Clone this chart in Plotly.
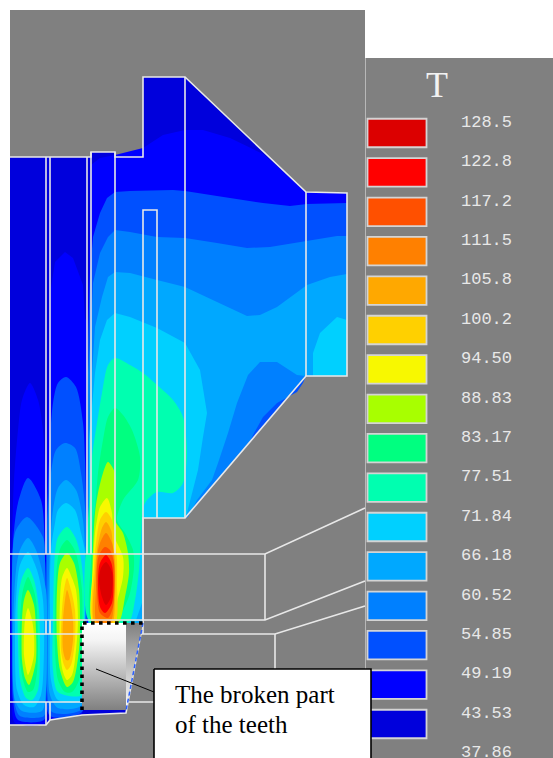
import plotly.graph_objects as go

# Legend
LEVEL_LABELS = ["128.5","122.8","117.2","111.5","105.8","100.2","94.50","88.83","83.17","77.51",
                "71.84","66.18","60.52","54.85","49.19","43.53","37.86"]
C = dict(L128="#dc0000", L122="#ff0000", L117="#ff5000", L111="#ff8000", L105="#ffa800", L100="#ffd000",
         L94="#f8f800", L88="#a8ff00", L83="#00ff80", L77="#00ffb0", L71="#00d0ff", L66="#00a8ff",
         L60="#0080ff", L54="#0050ff", L49="#0000ff", L43="#0000dc")
LEGEND_KEYS = ["L128","L122","L117","L111","L105","L100","L94","L88","L83","L77","L71","L66","L60","L54","L49","L43"]

OUTLINE = [(10,157),(91,157),(91,152),(115,152),(115,157),(143,157),(143,77),(185,77),(306,192),(347,193),(347,376),(306,376),
           (185,518),(143,518),(143,623),(126,713),(82,715),(50,720),(46,725),(10,725)]

# Isotherm regions, coldest first
REGIONS = [
 ("L43",[OUTLINE]),
 ("L49",[
  [(91,165),(100,158),(115,155),(143,148),(163,135),(185,130),(203,130),(230,138),(263,154),(287,175),(306,192),(347,193),(347,376),(306,376),(185,518),(143,518),(143,623),(87,623),(87,400),(88,300),(90,200)],
  [(65,252),(55,262),(51,288),(50,340),(47,450),(46,560),(46,700),(50,719),(82,714),(90,623),(90,330),(85,318),(83,285),(73,258)],
  [(30,383),(22,400),(18,430),(14,480),(12,540),(11,640),(12,700),(15,723),(45,723),(47,700),(47,560),(45,470),(43,430),(38,400)],
 ]),
 ("L54",[
  [(115,192),(130,191),(173,190),(185,191),(217,196),(263,203),(290,206),(307,204),(347,203),(347,376),(306,376),(185,518),(143,518),(143,623),(88,623),(87,540),(87,373),(88,340),(90,273),(93,237),(100,213),(107,198)],
  [(66,377),(58,383),(53,403),(49,460),(47,520),(46,560),(46,620),(46,690),(50,716),(82,712),(87,623),(87,540),(85,460),(83,423),(76,387)],
  [(28,478),(18,503),(13,543),(12,640),(13,700),(18,720),(44,720),(46,700),(46,640),(45,560),(41,500)],
 ]),
 ("L60",[
  [(115,230),(130,232),(157,237),(185,238),(217,243),(247,248),(270,247),(307,241),(337,236),(347,236),(347,376),(306,376),(185,518),(143,518),(143,623),(88,623),(88,373),(91,327),(93,283),(100,253),(108,237)],
  [(65,443),(56,450),(51,473),(48,510),(47,560),(47,690),(52,712),(82,709),(86,623),(86,520),(81,473),(75,448)],
  [(27,517),(16,530),(13,547),(12,640),(15,705),(20,716),(44,716),(46,700),(46,640),(45,560),(43,537)],
 ]),
 ("L66",[
  [(115,272),(130,273),(157,280),(185,287),(217,302),(247,316),(260,315),(277,307),(307,285),(330,277),(347,274),(347,376),(306,376),(185,518),(143,518),(143,623),(88,623),(88,540),(89,440),(92,373),(95,327),(102,297),(108,277)],
  [(66,480),(58,488),(53,510),(50,547),(48,640),(50,695),(58,708),(82,705),(85,623),(85,552),(83,520),(76,490)],
  [(28,538),(20,550),(16,570),(13,640),(15,700),(22,711),(42,711),(46,690),(47,640),(46,590),(36,550)],
 ]),
 ("L60",[
  [(260,362),(277,362),(297,375),(306,376),(185,518),(188,517),(197,500),(212,480),(218,463),(228,433),(237,403),(248,375)],
 ]),
 ("L54",[
  [(253,435),(263,417),(277,403),(297,392),(303,383),(306,376),(250,442)],
 ]),
 ("L71",[
  [(115,313),(130,317),(157,328),(185,343),(200,370),(207,413),(203,437),(198,470),(187,513),(185,518),(143,518),(143,600),(135,623),(89,623),(89,440),(92,407),(95,373),(100,340),(107,320)],
  [(313,376),(313,353),(320,333),(337,317),(347,320),(347,376)],
  [(28,552),(20,565),(16,600),(15,640),(17,690),(24,705),(34,707),(41,695),(44,650),(43,600),(37,570)],
  [(66,503),(58,510),(55,523),(51,550),(50,620),(51,680),(58,700),(82,700),(85,623),(85,552),(81,533),(75,510)],
 ]),
 ("L77",[
  [(115,358),(130,365),(143,373),(157,385),(173,400),(183,417),(187,453),(183,483),(173,493),(157,492),(147,500),(143,508),(141,540),(139,570),(135,600),(128,623),(90,623),(90,490),(92,457),(97,423),(102,393),(108,365)],
  [(28,568),(22,578),(18,600),(18,640),(20,680),(26,698),(32,700),(38,690),(40,650),(39,610),(34,580)],
  [(67,527),(58,537),(55,553),(53,620),(53,670),(58,692),(82,695),(84,623),(84,590),(80,553),(75,537)],
 ]),
 ("L83",[
  [(115,408),(123,415),(132,430),(140,457),(138,480),(123,500),(117,520),(125,533),(133,550),(134,567),(130,593),(122,613),(117,623),(92,623),(91,560),(92,533),(93,520),(95,507),(98,473),(103,440),(108,417)],
  [(28,577),(23,590),(20,620),(20,660),(23,680),(28,692),(33,690),(37,672),(38,640),(36,600),(33,588)],
  [(67,540),(61,547),(58,557),(55,600),(55,650),(58,680),(65,692),(72,692),(79,680),(82,640),(82,590),(77,557),(73,547)],
 ]),
 ("L88",[
  [(108,462),(103,473),(98,493),(95,513),(93,550),(92,583),(93,623),(118,623),(125,597),(129,573),(128,553),(123,533),(115,520),(115,473)],
  [(28,590),(24,600),(22,620),(22,660),(25,678),(29,685),(32,678),(36,660),(36,630),(34,605)],
  [(67,553),(60,563),(57,590),(57,640),(60,670),(67,687),(73,682),(79,650),(80,620),(79,590),(74,563)],
 ]),
 ("L94",[
  [(107,498),(100,507),(97,520),(95,533),(93,567),(93,623),(115,623),(117,603),(123,577),(123,557),(113,533),(112,513)],
  [(28,608),(25,620),(24,635),(24,655),(26,668),(28,675),(31,668),(34,655),(34,635),(32,620)],
  [(67,568),(62,578),(60,600),(60,650),(63,672),(67,680),(72,675),(76,650),(78,620),(76,590),(72,578)],
 ]),
 ("L100",[
  [(106,512),(100,520),(96,543),(94,567),(94,623),(115,623),(117,583),(117,560),(115,540),(112,520)],
  [(67,578),(64,590),(62,610),(61,650),(64,665),(67,670),(71,665),(75,640),(75,610),(71,590)],
 ]),
 ("L105",[
  [(106,522),(102,528),(97,550),(95,573),(95,623),(112,623),(115,600),(115,560),(113,547),(111,530)],
  [(67,590),(65,600),(63,620),(63,650),(66,660),(69,660),(73,640),(73,620),(70,600)],
 ]),
 ("L111",[
  [(106,533),(100,543),(97,557),(96,587),(97,623),(110,623),(114,603),(114,560),(112,543)],
 ]),
 ("L117",[[(105,547),(99,555),(97,567),(97,593),(100,613),(108,618),(113,607),(114,563),(110,550)]]),
 ("L122",[[(106,555),(100,563),(98,580),(100,607),(105,613),(112,603),(113,573),(111,562)]]),
 ("L128",[[(106,562),(101,568),(99,580),(102,597),(106,605),(111,597),(112,572)]]),
]
SMOOTH_KEYS = ["L77","L83","L88","L94","L100","L105","L111","L117","L122","L128"]

# Wireframe of the model
MESH = [
 OUTLINE,
 [(46,157),(46,554)],[(50,157),(50,554)],[(87,157),(87,554)],[(91,152),(91,554)],[(115,152),(115,554)],
 [(143,518),(143,210),(157,210),(157,518)],[(185,77),(185,518)],[(306,192),(306,376)],
 [(10,554),(265,554),(365,508)],[(265,554),(265,620)],[(10,620),(265,620),(365,581)],
 [(10,634),(275,634),(365,606)],[(275,634),(275,670)],[(143,518),(143,634)],
 [(10,702),(154,702)],[(46,620),(46,634)],[(50,620),(50,634)],[(46,702),(46,725)],[(50,702),(50,720)],
]
LEADER = [(96,669),(154,692)]
BROKEN_RECT = [(82,623),(126,623),(126,710),(82,710)]
BROKEN_WEDGE = [(126,623),(143,623),(126,710)]
BROKEN_DOTS = [(82,710),(82,623),(143,623)]
BROKEN_EDGE = [(143,623),(126,711)]
BOX = [(154,669),(371,669),(371,765),(154,765),(154,669)]

def xs(p): return [a for a,_ in p]
def ys(p): return [b for _,b in p]

fig = go.Figure()

# legend swatches
SW_Y = [133+39.4*i for i in range(len(LEGEND_KEYS))]
fig.add_trace(go.Bar(orientation="h", base=[367.5]*len(SW_Y), x=[59]*len(SW_Y), y=SW_Y, width=[28.5]*len(SW_Y),
                     marker=dict(color=[C[k] for k in LEGEND_KEYS], line=dict(color="#d4d4d4", width=1.8)),
                     hoverinfo="skip", showlegend=False))

for key, polys in REGIONS:
    for p in polys:
        smooth = key in SMOOTH_KEYS or max(xs(p)) < 90
        fig.add_trace(go.Scatter(x=xs(p)+[p[0][0]], y=ys(p)+[p[0][1]], mode="lines", fill="toself",
                                 fillcolor=C[key],
                                 line=dict(width=0, color=C[key], shape="spline" if smooth else "linear", smoothing=0.8),
                                 hoverinfo="skip", showlegend=False))

for m in MESH:
    fig.add_trace(go.Scatter(x=xs(m), y=ys(m), mode="lines", line=dict(color="#e8e8e8", width=1.6),
                             hoverinfo="skip", showlegend=False))

# broken tooth
fig.add_trace(go.Scatter(x=xs(BROKEN_RECT)+[82], y=ys(BROKEN_RECT)+[623], mode="lines", fill="toself",
                         fillgradient=dict(type="vertical", colorscale=[[0,"#808080"],[0.8,"#f4f4f4"],[1,"#ffffff"]]),
                         line=dict(width=0), hoverinfo="skip", showlegend=False))
fig.add_trace(go.Scatter(x=xs(BROKEN_WEDGE)+[126], y=ys(BROKEN_WEDGE)+[623], mode="lines", fill="toself",
                         fillgradient=dict(type="vertical", colorscale=[[0,"#ffffff"],[1,"#808080"]]),
                         line=dict(width=0), hoverinfo="skip", showlegend=False))
fig.add_trace(go.Scatter(x=xs(BROKEN_EDGE), y=ys(BROKEN_EDGE), mode="lines",
                         line=dict(color="#2a60ff", width=1.5, dash="4px,3px"), hoverinfo="skip", showlegend=False))
fig.add_trace(go.Scatter(x=xs(BROKEN_DOTS), y=ys(BROKEN_DOTS), mode="lines",
                         line=dict(color="#000000", width=3.6, dash="3.6px,4.4px"), hoverinfo="skip", showlegend=False))

# legend text
fig.add_trace(go.Scatter(x=[486.5]*len(LEVEL_LABELS), y=[122.5+39.4*i for i in range(len(LEVEL_LABELS))], mode="text",
                         text=LEVEL_LABELS, textposition="middle center",
                         textfont=dict(family="Liberation Mono", size=17, color="#e8e8e8"),
                         hoverinfo="skip", showlegend=False))
fig.add_trace(go.Scatter(x=[437], y=[88], mode="text", text=["T"], textposition="middle center",
                         textfont=dict(family="Liberation Serif", size=36, color="#f2f2f2"), hoverinfo="skip", showlegend=False))

# callout
fig.add_trace(go.Scatter(x=xs(LEADER), y=ys(LEADER), mode="lines", line=dict(color="#000000", width=1),
                         hoverinfo="skip", showlegend=False))
fig.add_trace(go.Scatter(x=xs(BOX), y=ys(BOX), mode="lines", fill="toself", fillcolor="#ffffff",
                         line=dict(color="#000000", width=1.6), hoverinfo="skip", showlegend=False))
fig.add_trace(go.Scatter(x=[175,175], y=[697,727], mode="text", text=["The broken part","of the teeth"],
                         textposition="middle right",
                         textfont=dict(family="Liberation Serif", size=25, color="#000000"),
                         hoverinfo="skip", showlegend=False))

fig.update_layout(
    width=553, height=758, margin=dict(l=0,r=0,t=0,b=0), paper_bgcolor="#ffffff", plot_bgcolor="#ffffff",
    barmode="overlay", showlegend=False,
    xaxis=dict(range=[0,553], visible=False, fixedrange=True),
    yaxis=dict(range=[758,0], visible=False, fixedrange=True),
    shapes=[
      dict(type="rect", xref="x", yref="y", x0=10, x1=365, y0=10, y1=758, fillcolor="#808080", line_width=0, layer="below"),
      dict(type="rect", xref="x", yref="y", x0=365, x1=553, y0=58, y1=758, fillcolor="#808080", line_width=0, layer="below"),
      dict(type="line", xref="x", yref="y", x0=365.5, x1=365.5, y0=58, y1=758, line=dict(color="#b8b8b8", width=1), layer="below"),
    ],
)
fig.write_html("out.html", config=dict(displayModeBar=False), post_script="document.body.style.margin='0';")
